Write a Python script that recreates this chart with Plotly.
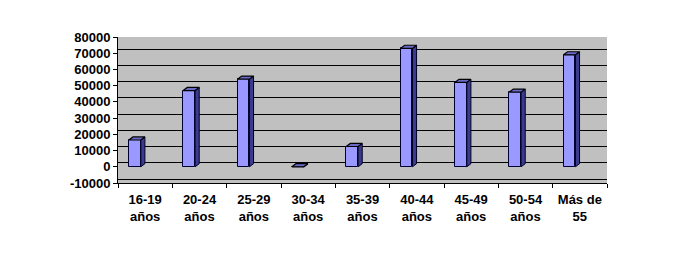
import plotly.graph_objects as go

categories = ["16-19<br>años", "20-24<br>años", "25-29<br>años", "30-34<br>años",
              "35-39<br>años", "40-44<br>años", "45-49<br>años", "50-54<br>años",
              "Más de<br>55"]
values = [16500, 47000, 54000, 0, 12500, 73000, 52000, 46000, 69000]
y_ticks = [-10000, 0, 10000, 20000, 30000, 40000, 50000, 60000, 70000, 80000]
y_tick_labels = [str(v) for v in y_ticks]

# 3D look (style constants)
front_offset = -0.30
front_width = 0.22
dx = 0.075
dy = 1900
grid_shift = 2460

pos = list(range(len(categories)))

side_x, side_y, top_x, top_y = [], [], [], []
for p, v in zip(pos, values):
    xl = p + front_offset
    xr = xl + front_width
    side_x += [xr, xr + dx, xr + dx, xr, xr, None]
    side_y += [0, dy, v + dy, v, 0, None]
    top_x += [xl, xl + dx, xr + dx, xr, xl, None]
    top_y += [v, v + dy, v + dy, v, v, None]

fig = go.Figure()
fig.add_trace(go.Scatter(x=[], y=[], yaxis="y2", showlegend=False, hoverinfo="skip"))
fig.add_trace(go.Bar(x=pos, y=values, base=0, offset=front_offset, width=front_width,
                     marker=dict(color="#9999FF", line=dict(color="#000033", width=1)),
                     showlegend=False))
fig.add_trace(go.Scatter(x=side_x, y=side_y, mode="lines", fill="toself",
                         fillcolor="#3B3B8C", line=dict(color="#000022", width=1),
                         showlegend=False, hoverinfo="skip"))
fig.add_trace(go.Scatter(x=top_x, y=top_y, mode="lines", fill="toself",
                         fillcolor="#6A6AC8", line=dict(color="#000000", width=1.2),
                         showlegend=False, hoverinfo="skip"))

font_b = dict(family="Liberation Sans, Arial, sans-serif", size=13, color="#000000", weight="bold")

fig.update_layout(
    width=700, height=258,
    margin=dict(l=118, r=93, t=37, b=75),
    paper_bgcolor="#FFFFFF",
    plot_bgcolor="#C0C0C0",
    xaxis=dict(range=[-0.5, len(categories) - 0.5], tickmode="array", tickvals=pos,
               ticktext=categories, ticks="", showgrid=False, zeroline=False,
               showline=True, linecolor="#000000", linewidth=1, tickfont=font_b,
               ticklabelstandoff=4,
               minor=dict(tick0=-0.5, dtick=1, ticks="outside", ticklen=4,
                          tickcolor="#000000", showgrid=False)),
    yaxis=dict(range=[-10000, 80000], tickmode="array", tickvals=y_ticks,
               ticktext=y_tick_labels,
               ticks="outside", ticklen=4, tickcolor="#000000", showgrid=False,
               zeroline=False, showline=True, linecolor="#000000", linewidth=1,
               tickfont=font_b),
    yaxis2=dict(range=[-10000 - grid_shift, 80000 - grid_shift], overlaying="y",
                tickmode="array", tickvals=y_ticks, showticklabels=False, ticks="",
                showgrid=True, gridcolor="#000000", gridwidth=1, zeroline=False,
                showline=False),
    bargap=0,
)

fig.write_html("out.html")
